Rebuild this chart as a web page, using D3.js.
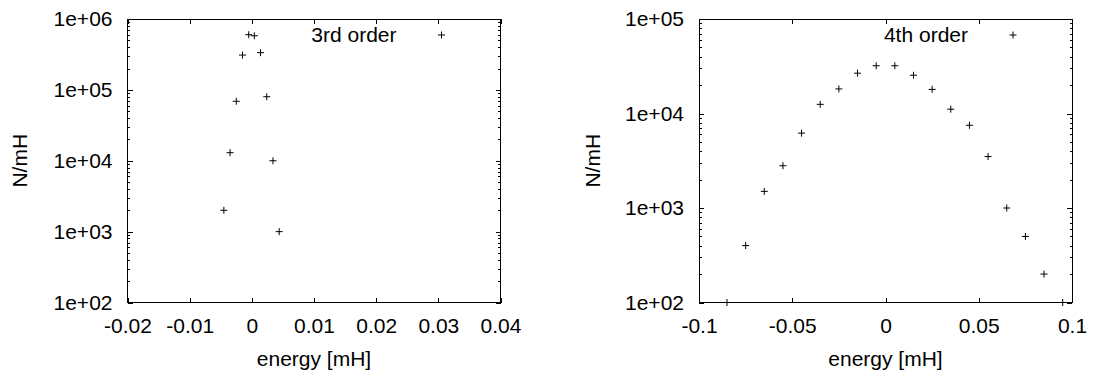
<!DOCTYPE html>
<html>
<head>
<meta charset="utf-8">
<script src="https://cdn.jsdelivr.net/npm/d3@7"></script>
<style>
  html, body { margin: 0; padding: 0; background: #fff; }
  svg { display: block; }
  text { font-family: "Liberation Sans", Arial, Helvetica, sans-serif; fill: #000; }
</style>
</head>
<body>
<svg id="chart" width="1097" height="378"></svg>
<script>
// ---- data ----
const leftEnergy = [-0.0005, 0.0004, -0.0015, 0.0014, -0.0025, 0.0024, -0.0035, 0.0034, -0.0045, 0.0044];
const leftCounts = [600000, 580000, 310000, 335000, 69000, 80000, 13000, 10000, 2000, 1000];
const leftLegend = "3rd order";
const leftXTicks = [-0.02, -0.01, 0, 0.01, 0.02, 0.03, 0.04];
const leftXTickLabels = ["-0.02", "-0.01", "0", "0.01", "0.02", "0.03", "0.04"];
const leftYTicks = [1e2, 1e3, 1e4, 1e5, 1e6];
const leftYTickLabels = ["1e+02", "1e+03", "1e+04", "1e+05", "1e+06"];

const rightEnergy = [-0.085, -0.075, -0.065, -0.055, -0.045, -0.035, -0.025, -0.015, -0.005, 0.005,
                     0.015, 0.025, 0.035, 0.045, 0.055, 0.065, 0.075, 0.085, 0.095];
const rightCounts = [100, 400, 1500, 2800, 6200, 12500, 18200, 26700, 32000, 32000,
                     25400, 18000, 11100, 7500, 3500, 1000, 500, 200, 100];
const rightLegend = "4th order";
const rightXTicks = [-0.1, -0.05, 0, 0.05, 0.1];
const rightXTickLabels = ["-0.1", "-0.05", "0", "0.05", "0.1"];
const rightYTicks = [1e2, 1e3, 1e4, 1e5];
const rightYTickLabels = ["1e+02", "1e+03", "1e+04", "1e+05"];

const xLabel = "energy [mH]";
const yLabel = "N/mH";

// ---- drawing ----
const svg = d3.select("#chart");
const FONT = 21;

function minorLogTicks(domain) {
  const out = [];
  const lo = Math.round(Math.log10(domain[0])), hi = Math.round(Math.log10(domain[1]));
  for (let e = lo; e < hi; e++) for (let m = 2; m <= 9; m++) out.push(m * Math.pow(10, e));
  return out;
}

function panel(cfg) {
  const x = d3.scaleLinear().domain(cfg.xDomain).range([cfg.left, cfg.right]);
  const y = d3.scaleLog().domain(cfg.yDomain).range([cfg.bottom, cfg.top]);
  const g = svg.append("g");

  const styleAxis = sel => {
    sel.select(".domain").remove();
    sel.selectAll(".tick line").attr("stroke", "#000").attr("stroke-width", 1).attr("shape-rendering", "crispEdges");
    sel.selectAll(".tick text").attr("font-size", FONT).attr("font-family", "Liberation Sans, Arial, sans-serif").attr("fill", "#000");
  };

  // bottom axis with labels
  g.append("g").attr("transform", `translate(0,${cfg.bottom})`)
    .call(d3.axisBottom(x).tickValues(cfg.xTicks).tickSize(-5).tickPadding(15.5)
      .tickFormat((d, i) => cfg.xTickLabels[i]))
    .call(styleAxis);
  // top mirrored ticks
  g.append("g").attr("transform", `translate(0,${cfg.top})`)
    .call(d3.axisTop(x).tickValues(cfg.xTicks).tickSize(-5).tickFormat(""))
    .call(styleAxis);
  // left axis with labels
  g.append("g").attr("transform", `translate(${cfg.left},0)`)
    .call(d3.axisLeft(y).tickValues(cfg.yTicks).tickSize(-5).tickPadding(15)
      .tickFormat((d, i) => cfg.yTickLabels[i]))
    .call(styleAxis);
  g.append("g").attr("transform", `translate(${cfg.left},0)`)
    .call(d3.axisLeft(y).tickValues(minorLogTicks(cfg.yDomain)).tickSize(-2.5).tickFormat(""))
    .call(styleAxis);
  // right mirrored ticks
  g.append("g").attr("transform", `translate(${cfg.right},0)`)
    .call(d3.axisRight(y).tickValues(cfg.yTicks).tickSize(-5).tickFormat(""))
    .call(styleAxis);
  g.append("g").attr("transform", `translate(${cfg.right},0)`)
    .call(d3.axisRight(y).tickValues(minorLogTicks(cfg.yDomain)).tickSize(-2.5).tickFormat(""))
    .call(styleAxis);

  // frame
  g.append("rect")
    .attr("x", cfg.left).attr("y", cfg.top)
    .attr("width", cfg.right - cfg.left).attr("height", cfg.bottom - cfg.top)
    .attr("fill", "none").attr("stroke", "#000").attr("stroke-width", 1)
    .attr("shape-rendering", "crispEdges");

  // points as "+"
  const s = 3.5;
  const pts = g.append("g").attr("stroke", "#000").attr("stroke-width", 1).attr("fill", "none");
  cfg.xs.forEach((xv, i) => {
    const px = x(xv), py = y(cfg.ys[i]);
    pts.append("path").attr("d", `M${px - s},${py}H${px + s}M${px},${py - s}V${py + s}`);
  });

  // legend
  const keyX = cfg.right - 59, keyY = cfg.top + 16;
  pts.append("path").attr("d", `M${keyX - s},${keyY}H${keyX + s}M${keyX},${keyY - s}V${keyY + s}`);
  g.append("text").attr("x", keyX - 45).attr("y", keyY).attr("dy", "0.35em")
    .attr("text-anchor", "end").attr("font-size", FONT).text(cfg.legend);

  // axis labels
  g.append("text").attr("x", (cfg.left + cfg.right) / 2).attr("y", 366)
    .attr("text-anchor", "middle").attr("font-size", FONT).text(xLabel);
  g.append("text")
    .attr("transform", `translate(${cfg.yLabelX},${(cfg.top + cfg.bottom) / 2}) rotate(-90)`)
    .attr("text-anchor", "middle").attr("dy", "0.35em").attr("font-size", FONT).text(yLabel);
}

panel({
  left: 127.5, right: 500.5, top: 19, bottom: 302.5,
  xDomain: [-0.02, 0.04], yDomain: [1e2, 1e6],
  xTicks: leftXTicks, xTickLabels: leftXTickLabels,
  yTicks: leftYTicks, yTickLabels: leftYTickLabels,
  xs: leftEnergy, ys: leftCounts, legend: leftLegend, yLabelX: 20
});
panel({
  left: 699, right: 1072, top: 19, bottom: 302.5,
  xDomain: [-0.1, 0.1], yDomain: [1e2, 1e5],
  xTicks: rightXTicks, xTickLabels: rightXTickLabels,
  yTicks: rightYTicks, yTickLabels: rightYTickLabels,
  xs: rightEnergy, ys: rightCounts, legend: rightLegend, yLabelX: 593
});
</script>
</body>
</html>
